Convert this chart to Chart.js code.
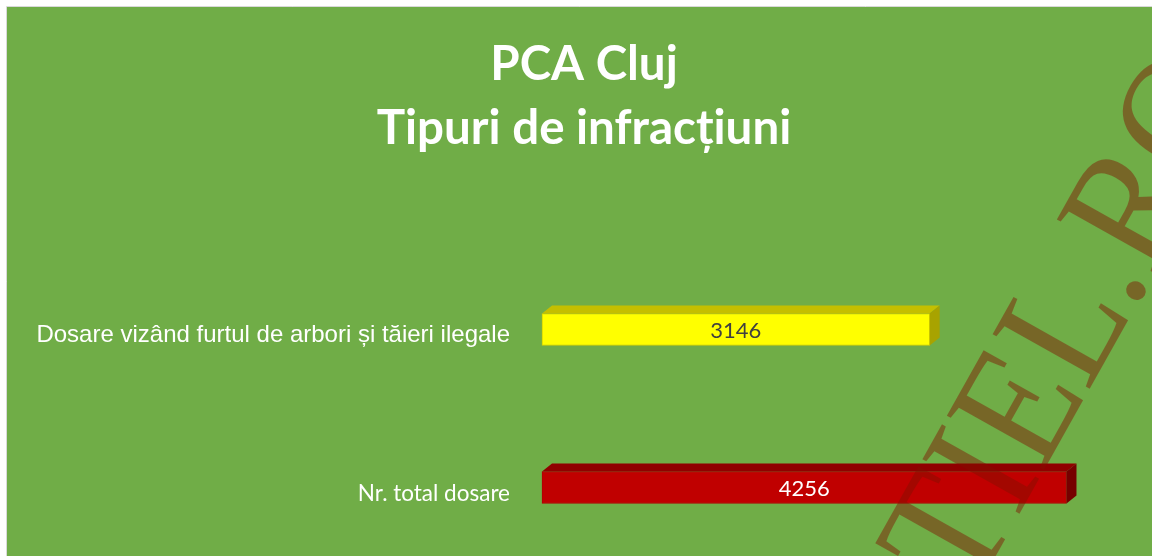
<!DOCTYPE html>
<html>
<head>
<meta charset="utf-8">
<script src="https://cdn.jsdelivr.net/npm/chart.js@4.4.1/dist/chart.umd.min.js"></script>
<style>
  html, body { margin: 0; padding: 0; background: #fff; overflow: hidden; }
  #wrap { width: 1152px; height: 556px; position: relative; }
</style>
</head>
<body>
<div id="wrap"><canvas id="chart"></canvas></div>
<script>
const categories = ['Dosare vizând furtul de arbori și tăieri ilegale', 'Nr. total dosare'];
const values = [3146, 4256];
const titleLines = ['PCA Cluj', 'Tipuri de infracțiuni'];
const watermarkText = 'TIEL.RO';

const frontColors = ['#ffff00', '#c00000'];
const edgeColors = ['#d6d300', '#b00000'];
const topColors = ['#c4bf00', '#900000'];
const sideColors = ['#a8a300', '#760000'];
const valueColors = ['#404040', '#ffffff'];
const DEPTH_X = 10, DEPTH_Y = -8;
const CALIBRI = 'Lato, "Open Sans", sans-serif';

// green chart panel with a thin grey frame, cropped on the right and bottom
const background = {
  id: 'background',
  beforeDraw(chart) {
    const { ctx, width, height } = chart;
    ctx.save();
    ctx.fillStyle = '#ffffff';
    ctx.fillRect(0, 0, width, height);
    ctx.fillStyle = '#70ad47';
    ctx.fillRect(7, 7, width - 7, height - 7);
    ctx.strokeStyle = '#d9d9d9';
    ctx.lineWidth = 1;
    ctx.beginPath();
    ctx.moveTo(6.5, height);
    ctx.lineTo(6.5, 6.5);
    ctx.lineTo(width, 6.5);
    ctx.stroke();
    ctx.restore();
  }
};

// top and side faces of the 3D bars, plus the value labels
const bars3d = {
  id: 'bars3d',
  afterDatasetsDraw(chart) {
    const ctx = chart.ctx;
    const meta = chart.getDatasetMeta(0);
    ctx.save();
    meta.data.forEach((bar, i) => {
      const { x, y, base, height } = bar.getProps(['x', 'y', 'base', 'height'], true);
      const top = y - height / 2, bottom = y + height / 2;
      ctx.fillStyle = topColors[i];
      ctx.beginPath();
      ctx.moveTo(base, top);
      ctx.lineTo(base + DEPTH_X, top + DEPTH_Y);
      ctx.lineTo(x + DEPTH_X, top + DEPTH_Y);
      ctx.lineTo(x, top);
      ctx.closePath();
      ctx.fill();
      ctx.fillStyle = sideColors[i];
      ctx.beginPath();
      ctx.moveTo(x, top);
      ctx.lineTo(x + DEPTH_X, top + DEPTH_Y);
      ctx.lineTo(x + DEPTH_X, bottom + DEPTH_Y);
      ctx.lineTo(x, bottom);
      ctx.closePath();
      ctx.fill();

      ctx.fillStyle = valueColors[i];
      ctx.font = `22px ${CALIBRI}`;
      ctx.textAlign = 'center';
      ctx.textBaseline = 'middle';
      ctx.fillText(String(values[i]), (base + x) / 2, y + 1);
    });
    ctx.restore();
  }
};

// diagonal site watermark laid over the picture
const watermark = {
  id: 'watermark',
  afterDraw(chart) {
    const ctx = chart.ctx;
    ctx.save();
    ctx.translate(971, 600);
    ctx.rotate(-60.7 * Math.PI / 180);
    ctx.scale(0.9, 1);
    ctx.font = '170px "Liberation Serif", "DejaVu Serif", serif';
    ctx.fillStyle = 'rgba(128, 16, 0, 0.45)';
    ctx.textBaseline = 'alphabetic';
    ctx.textAlign = 'left';
    ctx.fillText(watermarkText, 0, 0);
    ctx.restore();
  }
};

new Chart(document.getElementById('chart'), {
  type: 'bar',
  data: {
    labels: categories,
    datasets: [{
      data: values,
      backgroundColor: frontColors,
      borderColor: edgeColors,
      borderWidth: 1,
      borderSkipped: false,
      barThickness: 32,
      clip: false
    }]
  },
  options: {
    indexAxis: 'y',
    responsive: true,
    maintainAspectRatio: false,
    animation: false,
    events: [],
    layout: { padding: { left: 16, right: 0, top: 0, bottom: 68.5 } },
    plugins: {
      legend: { display: false },
      tooltip: { enabled: false },
      title: {
        display: true,
        text: titleLines,
        color: '#ffffff',
        font: { family: CALIBRI, size: 47.5, weight: 'bold', lineHeight: 1.347 },
        padding: { top: 32.5, bottom: 169 }
      }
    },
    scales: {
      x: { display: false, min: 0, max: 4950 },
      y: {
        offset: false,
        grid: { display: false, drawTicks: false },
        border: { display: false },
        afterFit(scale) { scale.width = 526; },
        ticks: {
          padding: 32,
          labelOffset: 6,
          color: '#ffffff',
          font(ctx) {
            return ctx.index === 0
              ? { family: '"Liberation Sans", Arial, sans-serif', size: 24 }
              : { family: CALIBRI, size: 22.5 };
          }
        }
      }
    }
  },
  plugins: [background, bars3d, watermark]
});
</script>
</body>
</html>
